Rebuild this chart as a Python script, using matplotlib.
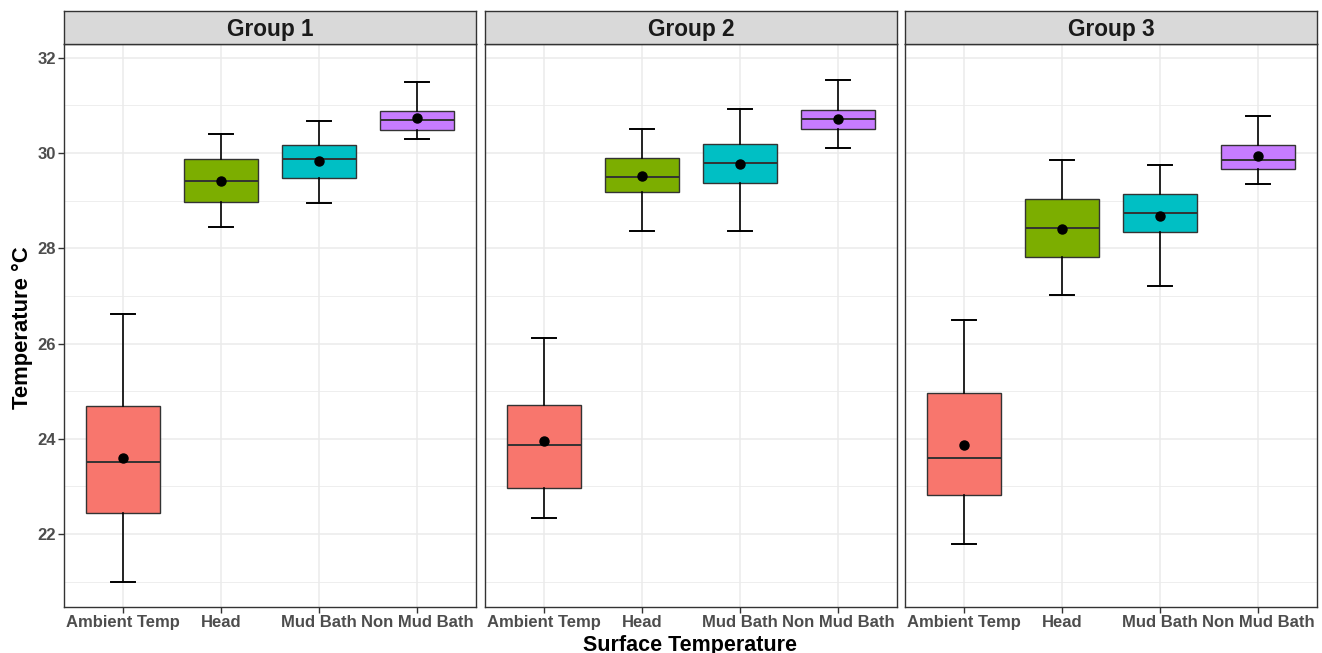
import matplotlib
matplotlib.use("Agg")
import matplotlib.pyplot as plt
from matplotlib.ticker import MultipleLocator

plt.rcParams['font.family'] = ['Liberation Sans', 'DejaVu Sans']

# Surface temperature summaries (°C) per group and site
groups = ["Group 1", "Group 2", "Group 3"]
sites = ["Ambient Temp", "Head", "Mud Bath", "Non Mud Bath"]
site_colors = ["#F8766D", "#7CAE00", "#00BFC4", "#C77CFF"]

# each row: Ambient Temp, Head, Mud Bath, Non Mud Bath
g1_low  = [21.00, 28.45, 28.96, 30.29]
g1_q1   = [22.44, 28.98, 29.47, 30.49]
g1_med  = [23.51, 29.42, 29.88, 30.70]
g1_q3   = [24.68, 29.88, 30.18, 30.88]
g1_high = [26.62, 30.39, 30.68, 31.50]
g1_mean = [23.60, 29.42, 29.83, 30.73]

g2_low  = [22.34, 28.37, 28.37, 30.11]
g2_q1   = [22.96, 29.18, 29.38, 30.51]
g2_med  = [23.87, 29.50, 29.80, 30.72]
g2_q3   = [24.71, 29.90, 30.20, 30.91]
g2_high = [26.12, 30.50, 30.92, 31.54]
g2_mean = [23.96, 29.51, 29.77, 30.72]

g3_low  = [21.80, 27.01, 27.21, 29.36]
g3_q1   = [22.82, 27.82, 28.34, 29.66]
g3_med  = [23.59, 28.42, 28.75, 29.85]
g3_q3   = [24.96, 29.03, 29.14, 30.17]
g3_high = [26.49, 29.86, 29.76, 30.78]
g3_mean = [23.88, 28.40, 28.67, 29.93]

group_data = [
    (g1_low, g1_q1, g1_med, g1_q3, g1_high, g1_mean),
    (g2_low, g2_q1, g2_med, g2_q3, g2_high, g2_mean),
    (g3_low, g3_q1, g3_med, g3_q3, g3_high, g3_mean),
]

W, H = 1322, 653
fig = plt.figure(figsize=(W / 100, H / 100), dpi=100)

panel_x = [(64, 476), (485, 897), (905, 1317)]
panel_top, panel_bottom, strip_top = 44, 607, 11
y_lo, y_hi = 20.47, 32.29

grid_col = "#EBEBEB"
edge_col = "#333333"
tick_col = "#4D4D4D"

for gi, (x0, x1) in enumerate(panel_x):
    ax = fig.add_axes([x0 / W, 1 - panel_bottom / H, (x1 - x0) / W,
                       (panel_bottom - panel_top) / H])
    low, q1, med, q3, high, mean = group_data[gi]
    stats = []
    for i in range(len(sites)):
        stats.append(dict(whislo=low[i], q1=q1[i], med=med[i], q3=q3[i],
                          whishi=high[i], mean=mean[i], fliers=[]))
    bp = ax.bxp(stats, positions=range(1, len(sites) + 1), widths=0.75,
                capwidths=0.25, patch_artist=True, showmeans=True,
                boxprops=dict(edgecolor=edge_col, linewidth=1.0),
                medianprops=dict(color=edge_col, linewidth=1.4),
                whiskerprops=dict(color="black", linewidth=1.2),
                capprops=dict(color="black", linewidth=1.4),
                meanprops=dict(marker="o", markerfacecolor="black",
                               markeredgecolor="black", markersize=6.5),
                zorder=3)
    for patch, c in zip(bp["boxes"], site_colors):
        patch.set_facecolor(c)

    ax.set_xlim(0.4, 4.6)
    ax.set_ylim(y_lo, y_hi)
    ax.yaxis.set_major_locator(MultipleLocator(2))
    ax.yaxis.set_minor_locator(MultipleLocator(1))
    ax.set_xticks(range(1, len(sites) + 1))
    ax.set_xticklabels(sites)
    ax.grid(which="major", color=grid_col, linewidth=1.1, zorder=0)
    ax.grid(which="minor", axis="y", color=grid_col, linewidth=0.6, zorder=0)
    ax.set_axisbelow(True)
    ax.tick_params(axis="both", which="major", length=4, width=1.0,
                   color=edge_col, labelsize=12, labelcolor=tick_col, pad=2)
    ax.tick_params(axis="y", which="minor", length=0)
    for lab in ax.get_xticklabels() + ax.get_yticklabels():
        lab.set_fontweight("bold")
    if gi > 0:
        ax.set_yticklabels([])
        ax.tick_params(axis="y", which="major", length=0)
    for sp in ax.spines.values():
        sp.set_color(edge_col)
        sp.set_linewidth(1.0)

    # facet strip
    sax = fig.add_axes([x0 / W, 1 - panel_top / H, (x1 - x0) / W,
                        (panel_top - strip_top) / H])
    sax.set_facecolor("#D9D9D9")
    sax.set_xticks([])
    sax.set_yticks([])
    for sp in sax.spines.values():
        sp.set_color(edge_col)
        sp.set_linewidth(1.0)
    sax.text(0.5, 0.45, groups[gi], ha="center", va="center",
             fontsize=16.3, fontweight="bold", color="#1A1A1A",
             transform=sax.transAxes)

fig.text(22 / W, 1 - 328 / H,
         "Temperature °C", rotation=90, ha="center", va="center",
         fontsize=15.8, fontweight="bold", color="black")
fig.text(690 / W, 1 - 645 / H, "Surface Temperature",
         ha="center", va="center", fontsize=15.5, fontweight="bold",
         color="black")

fig.savefig("out.png", dpi=100)
